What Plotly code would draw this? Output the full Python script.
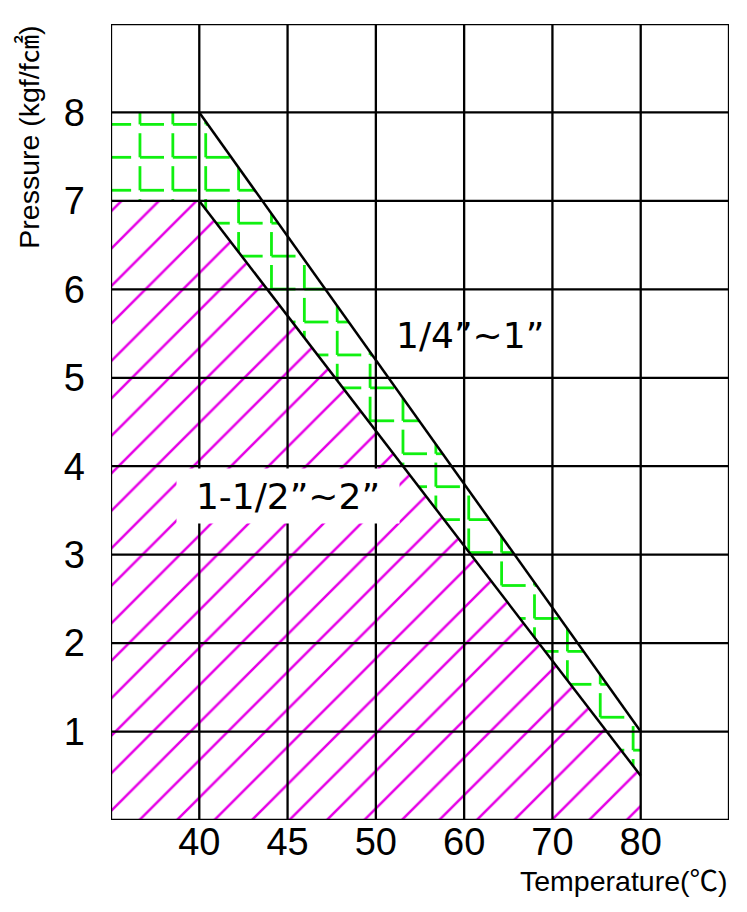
import numpy as np
import plotly.graph_objects as go

# ---------------- data ----------------
temp_ticks = [40, 45, 50, 60, 70, 80]          # x tick labels (unevenly spaced values)
temp_pos = [1, 2, 3, 4, 5, 6]                  # grid column of each tick
pressure_ticks = [1, 2, 3, 4, 5, 6, 7, 8]      # y tick labels
x_span = [0, 7]                                # grid columns
y_span = [0, 9]                                # grid rows

small_label = "1/4”~1”"
small_temp = [40, 80]
small_pressure = [8, 1]

large_label = "1-1/2”~2”"
large_temp = [40, 80]
large_pressure = [7, 0.5]

x_title = "Temperature(℃)"
y_title = "Pressure (kgf/f㎠)"

# ---------------- styles ----------------
FONT = "Liberation Sans, Arial, Noto Sans CJK KR, sans-serif"
LABEL_FONT = "DejaVu Sans, Liberation Sans, sans-serif"
MAGENTA = "#e600e6"
GREEN = "#10f010"


def pos(t):
    return np.interp(t, temp_ticks, temp_pos)


fig = go.Figure()

# Large size zone (magenta hatching)
lx = list(pos(large_temp))
mx = [x_span[0], x_span[0]] + lx + [lx[-1]]
my = [y_span[0], large_pressure[0]] + list(large_pressure) + [y_span[0]]
fig.add_trace(go.Scatter(
    x=mx, y=my, mode="none", fill="toself",
    fillcolor="white",
    fillpattern=dict(shape="/", fgcolor=MAGENTA, bgcolor="white", fgopacity=1,
                     size=26.5, solidity=0.095),
    hoverinfo="skip", showlegend=False))

# Small size zone (green dashed "L" pattern) built by clipping pattern strokes
sx = list(pos(small_temp))
rect = [(x_span[0], large_pressure[0]), (lx[0], large_pressure[0]),
        (sx[0], small_pressure[0]), (x_span[0], small_pressure[0])]
para = [(lx[0], large_pressure[0]), (lx[1], large_pressure[1]),
        (sx[1], small_pressure[1]), (sx[0], small_pressure[0])]


def clip(p0, p1, poly):
    t_in, t_out = 0.0, 1.0
    d = (p1[0] - p0[0], p1[1] - p0[1])
    n = len(poly)
    for i in range(n):
        a = poly[i]
        b = poly[(i + 1) % n]
        nx, ny = -(b[1] - a[1]), (b[0] - a[0])
        num = nx * (p0[0] - a[0]) + ny * (p0[1] - a[1])
        den = nx * d[0] + ny * d[1]
        if abs(den) < 1e-12:
            if num < 0:
                return None
        else:
            t = -num / den
            if den > 0:
                t_in = max(t_in, t)
            else:
                t_out = min(t_out, t)
    if t_in >= t_out:
        return None
    return ((p0[0] + t_in * d[0], p0[1] + t_in * d[1]),
            (p0[0] + t_out * d[0], p0[1] + t_out * d[1]))


step, gap = 0.3724, 0.10
ox, oy = 0.328, 7.865
gx, gy = [], []
for k in range(-3, 25):
    xk = ox + k * step
    for j in range(-3, 30):
        yj = oy - j * step
        segs = [((xk, yj - gap), (xk, yj - step)),
                ((xk, yj), (xk + step - gap, yj))]
        for p0, p1 in segs:
            for poly in (rect, para):
                c = clip(p0, p1, poly)
                if c:
                    gx += [c[0][0], c[1][0], None]
                    gy += [c[0][1], c[1][1], None]
fig.add_trace(go.Scatter(x=gx, y=gy, mode="lines",
                         line=dict(color=GREEN, width=2.8),
                         hoverinfo="skip", showlegend=False))

# Limit lines
fig.add_trace(go.Scatter(x=sx, y=small_pressure, mode="lines",
                         line=dict(color="black", width=2.5),
                         hoverinfo="skip", showlegend=False))
fig.add_trace(go.Scatter(x=lx, y=large_pressure, mode="lines",
                         line=dict(color="black", width=2.5),
                         hoverinfo="skip", showlegend=False))

# Grid drawn above the fills
vlines = sorted(set([x_span[0], x_span[1]] + temp_pos))
hlines = sorted(set([y_span[0], y_span[1]] + pressure_ticks))
for v in vlines:
    fig.add_shape(type="line", x0=v, x1=v, y0=y_span[0], y1=y_span[1],
                  xref="x", yref="y", layer="above",
                  line=dict(color="black", width=2.3))
for h in hlines:
    fig.add_shape(type="line", x0=x_span[0], x1=x_span[1], y0=h, y1=h,
                  xref="x", yref="y", layer="above",
                  line=dict(color="black", width=2.3))

# Zone labels
fig.add_annotation(x=4.07, y=5.48, xref="x", yref="y", text=small_label,
                   showarrow=False, font=dict(family=LABEL_FONT, size=36, color="black"))
fig.add_annotation(x=2.0, y=3.66, xref="x", yref="y", text=large_label,
                   showarrow=False, bgcolor="white", width=222, height=54,
                   borderpad=0,
                   font=dict(family=LABEL_FONT, size=36, color="black"))

# Axis titles
fig.add_annotation(x=1.0, y=-0.0766, xref="paper", yref="paper", text=x_title,
                   showarrow=False, xanchor="right", yanchor="middle",
                   font=dict(family=FONT, size=28.5, color="black"))
fig.add_annotation(x=-0.134, y=1.0, xref="paper", yref="paper", text=y_title,
                   showarrow=False, textangle=-90, xanchor="center", yanchor="top",
                   font=dict(family=FONT, size=28.5, color="black"))

# The page body adds an 8px margin, so the figure is 8px smaller and margins compensate
fig.update_layout(
    width=739, height=904,
    margin=dict(l=103, r=18, t=16, b=92),
    paper_bgcolor="white", plot_bgcolor="white",
    showlegend=False,
    font=dict(family=FONT, color="black"),
    xaxis=dict(range=x_span, tickvals=temp_pos, ticktext=[str(t) for t in temp_ticks],
               showgrid=False, zeroline=False, showline=False, ticks="",
               tickfont=dict(size=38, family=FONT, color="black"),
               ticklabelstandoff=-4, fixedrange=True),
    yaxis=dict(range=y_span, tickvals=pressure_ticks,
               ticktext=[str(p) for p in pressure_ticks],
               showgrid=False, zeroline=False, showline=False, ticks="",
               tickfont=dict(size=38, family=FONT, color="black"),
               ticklabelstandoff=25, fixedrange=True),
)

fig.write_html("out.html")
